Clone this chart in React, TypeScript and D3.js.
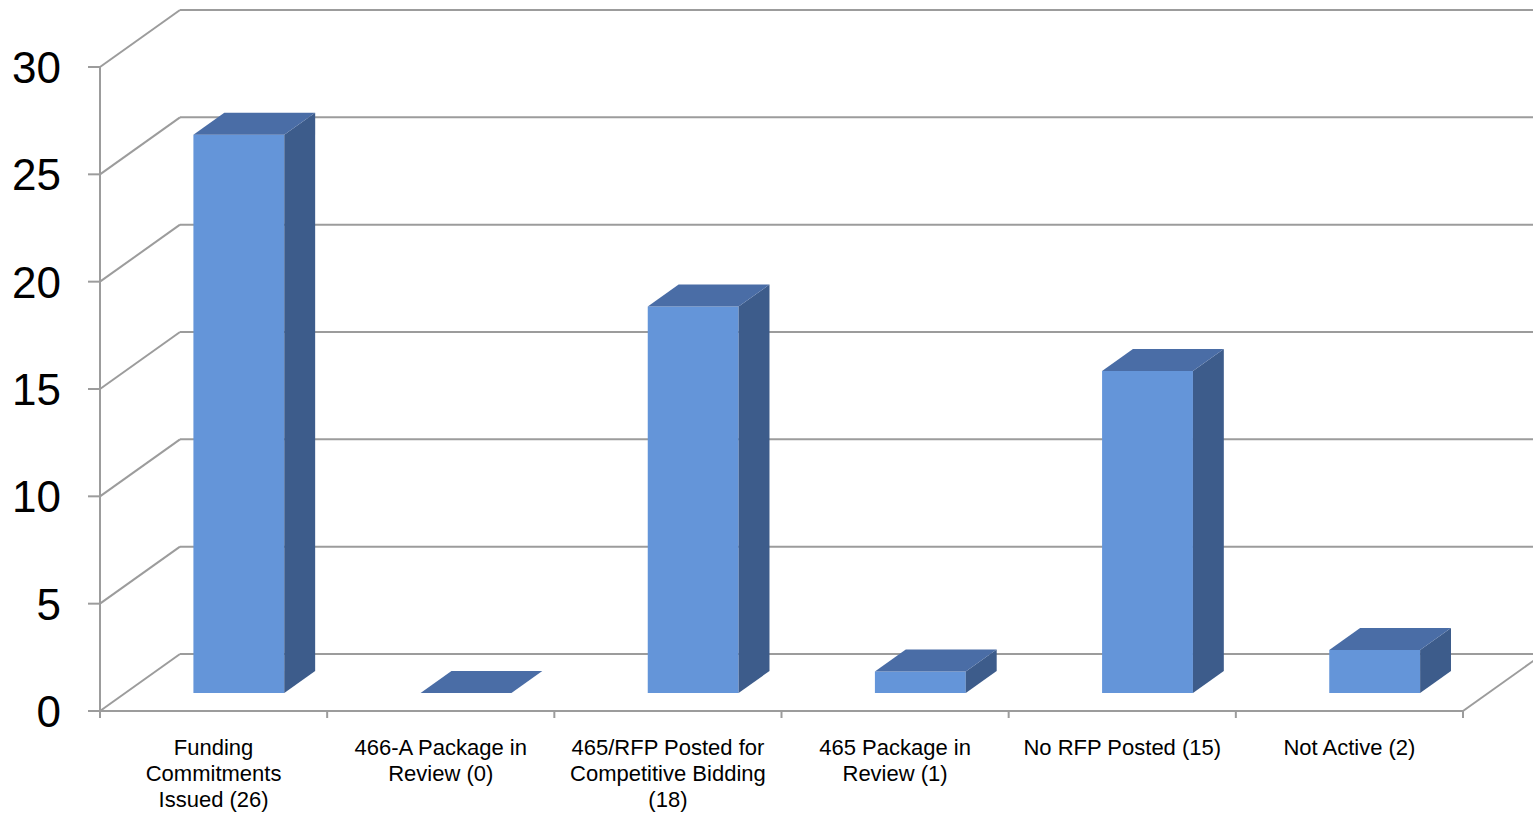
import React from 'react';
import * as d3 from 'd3';

const categories = [
  'Funding Commitments Issued (26)',
  '466-A Package in Review (0)',
  '465/RFP Posted for Competitive Bidding (18)',
  '465 Package in Review (1)',
  'No RFP Posted (15)',
  'Not Active (2)',
];
const labelLines = [
  ['Funding', 'Commitments', 'Issued (26)'],
  ['466-A Package in', 'Review (0)'],
  ['465/RFP Posted for', 'Competitive Bidding', '(18)'],
  ['465 Package in', 'Review (1)'],
  ['No RFP Posted (15)'],
  ['Not Active (2)'],
];
const values = [26, 0, 18, 1, 15, 2];
const yTicks = [0, 5, 10, 15, 20, 25, 30];

const W = 1533;
const H = 815;
const left = 100;
const right = 1463;
const bottom = 711;
const top = 67;
// oblique projection of depth
const depthY = 57;
const slope = 80 / 57;
const barFront = 18;
const barBack = 40;

const gridColor = '#9c9c9c';
const frontColor = '#6495d9';
const sideColor = '#3d5c8b';
const topColor = '#4a6da6';

export default function App() {
  const x = d3.scaleBand<string>().domain(categories).range([left, right]).paddingInner(0.6).paddingOuter(0.3);
  const y = d3.scaleLinear().domain([0, 30]).range([bottom, top]);
  const step = x.step();

  const proj = (px: number, py: number, d: number): [number, number] => [px + d * slope, py - d];
  const poly = (pts: [number, number][]) => pts.map((p) => p.join(',')).join(' ');

  return (
    <div style={{ position: 'absolute', left: 0, top: 0, background: '#fff' }}>
      <svg width={W} height={H} style={{ display: 'block' }} fontFamily="'Liberation Sans', Arial, sans-serif">
        {/* back wall gridlines */}
        {yTicks.map((t) => {
          const [bx, by] = proj(left, y(t), depthY);
          return (
            <g key={t} stroke={gridColor} strokeWidth={2} fill="none">
              <line x1={left} y1={y(t)} x2={bx} y2={by} />
              <line x1={bx} y1={by} x2={W + 20} y2={by} />
            </g>
          );
        })}
        {/* floor */}
        <g stroke={gridColor} strokeWidth={2} fill="none">
          <line x1={left} y1={bottom} x2={right} y2={bottom} />
          <line x1={right} y1={bottom} x2={proj(right, bottom, depthY)[0]} y2={proj(right, bottom, depthY)[1]} />
          <line x1={left} y1={top} x2={left} y2={bottom} />
          {yTicks.map((t) => (
            <line key={t} x1={left - 12} y1={y(t)} x2={left} y2={y(t)} />
          ))}
          {d3.range(categories.length + 1).map((i) => {
            const px = left + i * step;
            return <line key={i} x1={px} y1={bottom} x2={px} y2={bottom + 7} />;
          })}
        </g>
        {/* bars */}
        {categories.map((c, i) => {
          const x0 = x(c)!;
          const x1 = x0 + x.bandwidth();
          const yv = y(values[i]);
          const fl = proj(x0, bottom, barFront);
          const fr = proj(x1, bottom, barFront);
          const tl = proj(x0, yv, barFront);
          const tr = proj(x1, yv, barFront);
          const btl = proj(x0, yv, barBack);
          const btr = proj(x1, yv, barBack);
          const bbr = proj(x1, bottom, barBack);
          return (
            <g key={c}>
              {values[i] > 0 && (
                <>
                  <polygon points={poly([fl, fr, tr, tl])} fill={frontColor} />
                  <polygon points={poly([fr, bbr, btr, tr])} fill={sideColor} />
                </>
              )}
              <polygon points={poly([tl, tr, btr, btl])} fill={topColor} />
            </g>
          );
        })}
        {/* y tick labels */}
        {yTicks.map((t) => (
          <text key={t} x={61} y={y(t)} dy="0.36em" textAnchor="end" fontSize={44} fill="#000">
            {t}
          </text>
        ))}
        {/* category labels */}
        {categories.map((c, i) => (
          <text key={c} x={x(c)! + x.bandwidth() / 2} y={755} textAnchor="middle" fontSize={22} fill="#000">
            {labelLines[i].map((l, j) => (
              <tspan key={j} x={x(c)! + x.bandwidth() / 2} dy={j === 0 ? 0 : 26}>
                {l}
              </tspan>
            ))}
          </text>
        ))}
      </svg>
    </div>
  );
}
